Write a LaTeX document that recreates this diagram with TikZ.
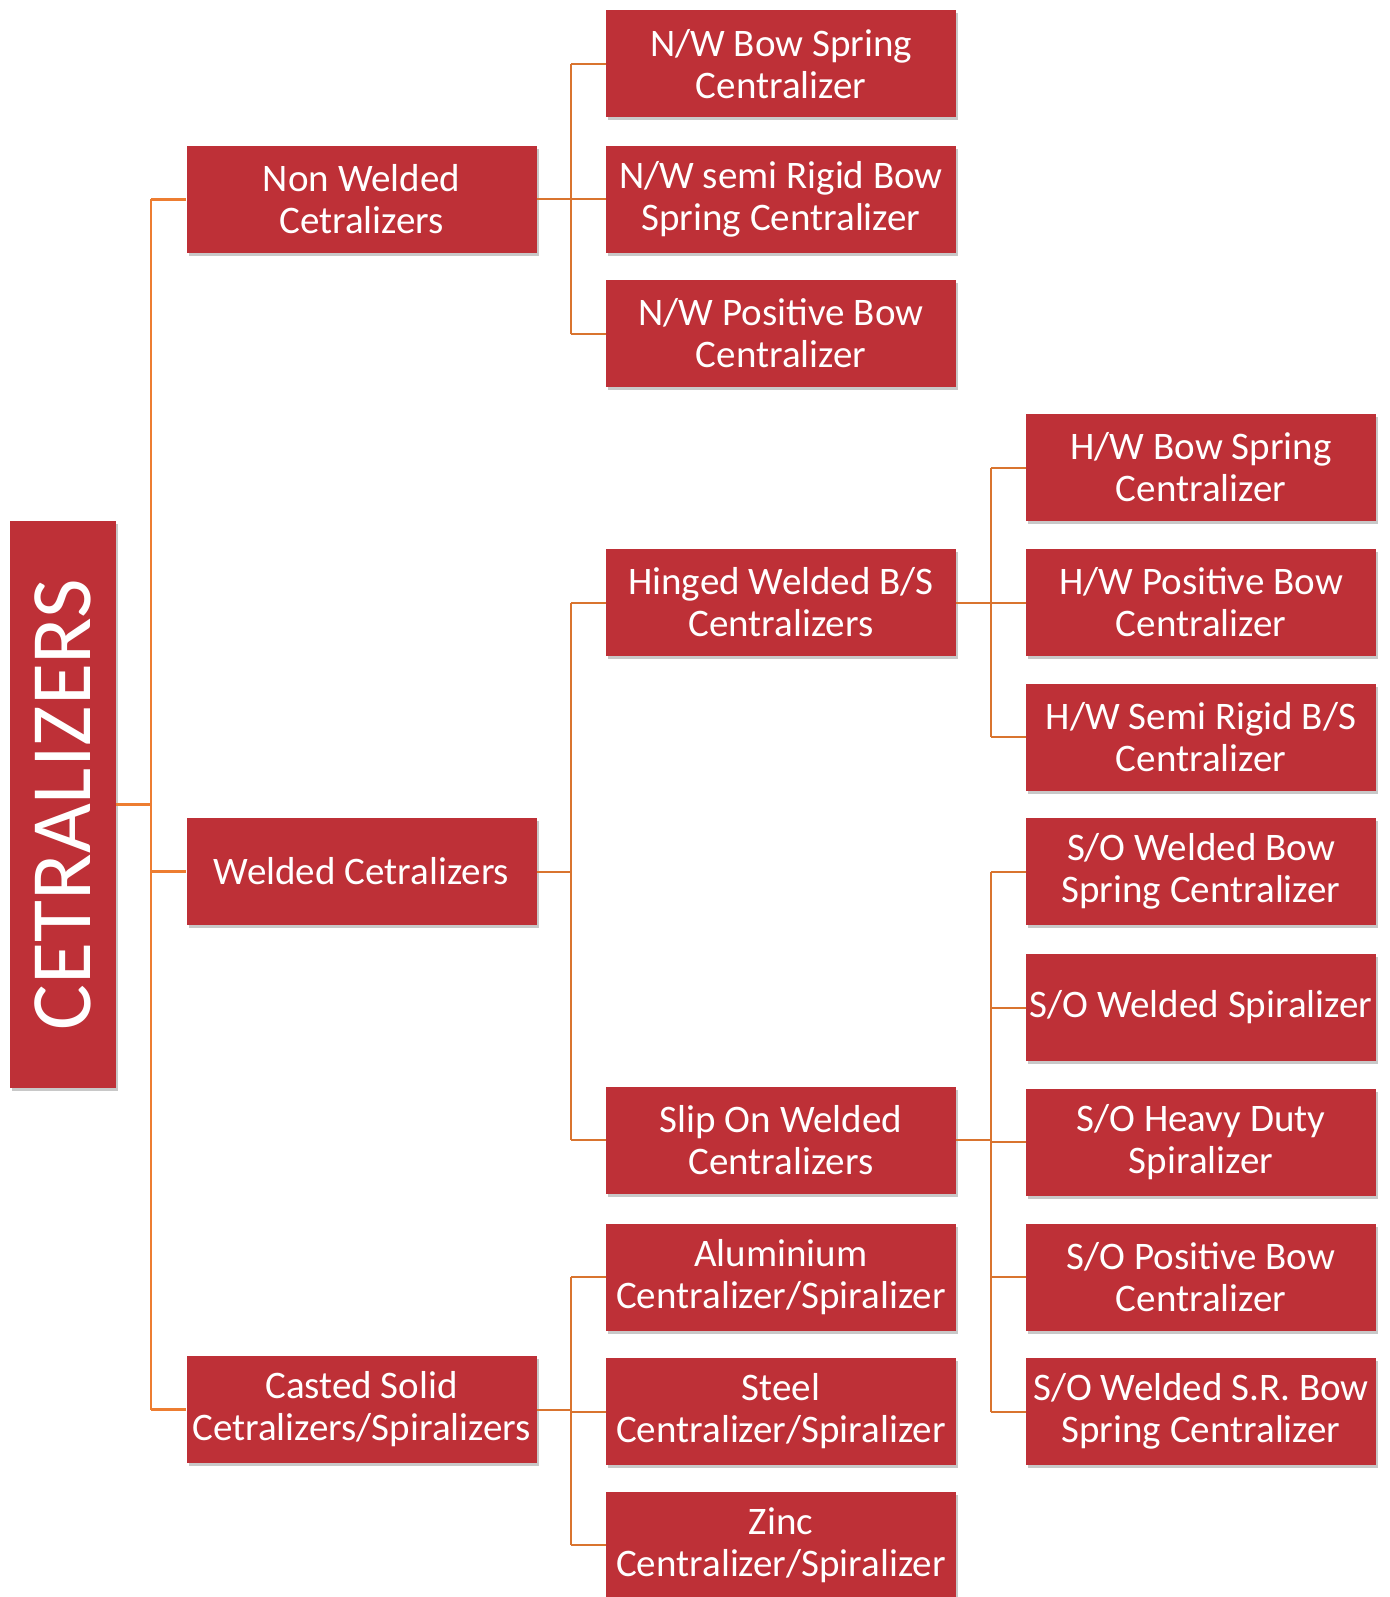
\documentclass[tikz,border=0pt]{standalone}
\usepackage{fontspec}
\setmainfont{Carlito}
\usetikzlibrary{shadows}
\definecolor{boxred}{HTML}{BE3037}
\definecolor{lineA}{HTML}{ED7D31}
\definecolor{lineB}{HTML}{D9742F}
\tikzset{
  box/.style={fill=boxred, text=white, align=center, inner sep=1pt,
    minimum width=350pt, minimum height=107pt,
    font=\fontsize{39}{42}\selectfont,
    drop shadow={opacity=0.3, shadow xshift=2pt, shadow yshift=-3pt, fill=black!70}},
  conA/.style={draw=lineA, line width=2.6pt},
  conB/.style={draw=lineB, line width=2pt},
}
\begin{document}
\begin{tikzpicture}[x=1pt,y=1pt]
\useasboundingbox[fill=white] (0,0) rectangle (1389,-1597);
% root
\node[box, minimum width=106pt, minimum height=567pt, font=\fontsize{86}{90}\selectfont] (root) at (63,-804.5) {\rotatebox{90}{CETRALIZERS}};
% level 1
\node[box] (nw) at (361.5,-199.5) {Non Welded\\Cetralizers};
\node[box] (wd) at (361.5,-871.5) {Welded Cetralizers};
\node[box] (cs) at (361.5,-1409.5) {Casted Solid\\Cetralizers/Spiralizers};
% level 2
\node[box] (nw1) at (781,-64) {N/W Bow Spring\\Centralizer};
\node[box] (nw2) at (781,-199.5) {N/W semi Rigid Bow\\Spring Centralizer};
\node[box] (nw3) at (781,-333.5) {N/W Positive Bow\\Centralizer};
\node[box] (hg) at (781,-602.5) {Hinged Welded B/S\\Centralizers};
\node[box] (so) at (781,-1140) {Slip On Welded\\Centralizers};
\node[box] (al) at (781,-1277) {Aluminium\\Centralizer/Spiralizer};
\node[box] (st) at (781,-1411.5) {Steel\\Centralizer/Spiralizer};
\node[box] (zn) at (781,-1545) {Zinc\\Centralizer/Spiralizer};
% level 3
\node[box] (hw1) at (1201,-467.5) {H/W Bow Spring\\Centralizer};
\node[box] (hw2) at (1201,-602.5) {H/W Positive Bow\\Centralizer};
\node[box] (hw3) at (1201,-737) {H/W Semi Rigid B/S\\Centralizer};
\node[box] (so1) at (1201,-871.5) {S/O Welded Bow\\Spring Centralizer};
\node[box] (so2) at (1201,-1007.5) {S/O Welded Spiralizer};
\node[box] (so3) at (1201,-1142) {S/O Heavy Duty\\Spiralizer};
\node[box] (so4) at (1201,-1277) {S/O Positive Bow\\Centralizer};
\node[box] (so5) at (1201,-1411.5) {S/O Welded S.R. Bow\\Spring Centralizer};
% buses
\coordinate (b0) at (151,-804.5);
\coordinate (b1) at (571,-199.5);
\coordinate (b2) at (571,-871.5);
\coordinate (b3) at (571,-1409.5);
\coordinate (b4) at (991,-602.5);
\coordinate (b5) at (991,-1140);
% root connectors
\draw[conA] (root.east) -- (b0);
\draw[conA] (b0 |- nw.west) -- (b0 |- cs.west);
\draw[conA] (b0 |- nw.west) -- (nw.west);
\draw[conA] (b0 |- wd.west) -- (wd.west);
\draw[conA] (b0 |- cs.west) -- (cs.west);
% non welded
\draw[conB] (nw.east) -- (b1);
\draw[conB] (b1 |- nw1.west) -- (b1 |- nw3.west);
\foreach \n in {nw1,nw2,nw3} \draw[conB] (b1 |- \n.west) -- (\n.west);
% welded
\draw[conB] (wd.east) -- (b2);
\draw[conB] (b2 |- hg.west) -- (b2 |- so.west);
\foreach \n in {hg,so} \draw[conB] (b2 |- \n.west) -- (\n.west);
% casted
\draw[conB] (cs.east) -- (b3);
\draw[conB] (b3 |- al.west) -- (b3 |- zn.west);
\foreach \n in {al,st,zn} \draw[conB] (b3 |- \n.west) -- (\n.west);
% hinged
\draw[conB] (hg.east) -- (b4);
\draw[conB] (b4 |- hw1.west) -- (b4 |- hw3.west);
\foreach \n in {hw1,hw2,hw3} \draw[conB] (b4 |- \n.west) -- (\n.west);
% slip on
\draw[conB] (so.east) -- (b5);
\draw[conB] (b5 |- so1.west) -- (b5 |- so5.west);
\foreach \n in {so1,so2,so3,so4,so5} \draw[conB] (b5 |- \n.west) -- (\n.west);
\end{tikzpicture}
\end{document}
